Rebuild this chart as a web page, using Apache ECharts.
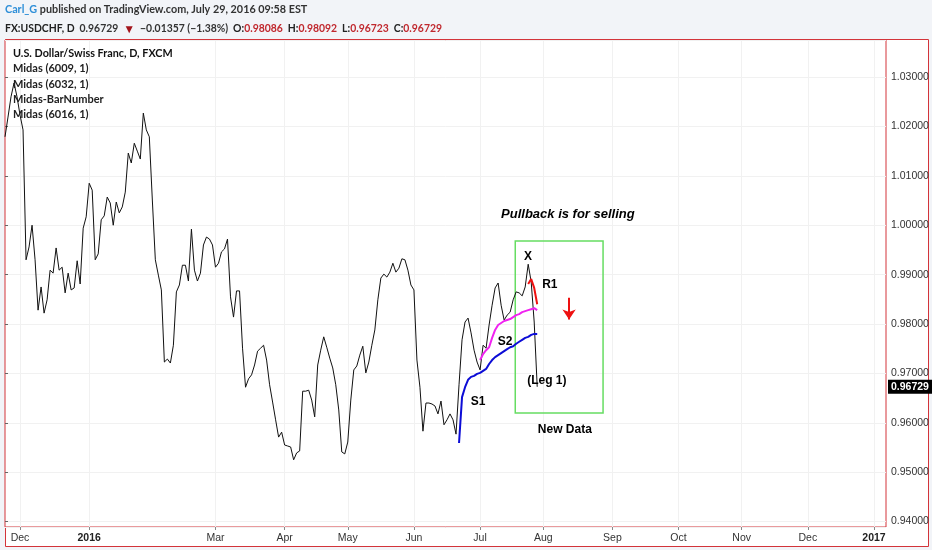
<!DOCTYPE html>
<html><head><meta charset="utf-8">
<script src="https://cdn.jsdelivr.net/npm/echarts@6/dist/echarts.min.js"></script>
<style>html,body{margin:0;padding:0;background:#f2f4f8;} #c{width:932px;height:550px;}</style>
</head><body><div id="c"></div>
<script>
// ---- categories (trading days) ----
const startDate = '2015-11-24';
const endDate = '2017-01-06';
const hiddenMonthLabels = ['2016-02'];
const monthNames = ['Jan','Feb','Mar','Apr','May','Jun','Jul','Aug','Sep','Oct','Nov','Dec'];

// ---- USDCHF daily close, from first category ----
const priceValues = [
  1.0179,1.0219,1.0260,1.0288,1.0260,1.0223,1.0193,0.9930,0.9956,1.0000,
  0.9930,0.9828,0.9875,0.9822,0.9849,0.9909,0.9903,0.9954,0.9909,0.9915,
  0.9863,0.9903,0.9869,0.9873,0.9928,0.9881,0.9994,1.0017,1.0085,1.0071,
  0.9930,0.9942,1.0011,1.0019,1.0057,1.0045,1.0000,1.0047,1.0025,1.0037,
  1.0067,1.0146,1.0126,1.0166,1.0150,1.0134,1.0227,1.0193,1.0179,1.0051,
  0.9930,0.9899,0.9869,0.9723,0.9729,0.9721,0.9757,0.9865,0.9879,0.9919,
  0.9919,0.9887,0.9992,0.9909,0.9887,0.9903,0.9960,0.9976,0.9972,0.9960,
  0.9915,0.9923,0.9946,0.9952,0.9972,0.9855,0.9814,0.9867,0.9867,0.9751,
  0.9672,0.9689,0.9697,0.9717,0.9745,0.9751,0.9757,0.9727,0.9677,0.9642,
  0.9606,0.9571,0.9581,0.9555,0.9553,0.9551,0.9525,0.9539,0.9543,0.9664,
  0.9664,0.9666,0.9646,0.9612,0.9717,0.9747,0.9774,0.9753,0.9731,0.9711,
  0.9677,0.9626,0.9541,0.9537,0.9561,0.9646,0.9707,0.9715,0.9737,0.9755,
  0.9701,0.9723,0.9757,0.9788,0.9849,0.9893,0.9901,0.9895,0.9905,0.9923,
  0.9905,0.9913,0.9932,0.9930,0.9909,0.9879,0.9869,0.9727,0.9672,0.9583,
  0.9640,0.9640,0.9638,0.9634,0.9618,0.9644,0.9596,0.9606,0.9618,0.9606,
  0.9577,0.9677,0.9768,0.9804,0.9812,0.9782,0.9747,0.9723,0.9707,0.9757,
  0.9751,0.9798,0.9838,0.9873,0.9883,0.9838,0.9808,0.9818,0.9824,0.9849,
  0.9865,0.9863,0.9857,0.9875,0.9921,0.9885,0.9804,0.96729
];

// ---- Midas curves (start = category index) ----
const midasS1Start = 151;
const midasS1 = [0.9559,0.9652,0.9672,0.9687,0.9693,0.9695,0.9699,0.9701,0.9705,0.9709,
  0.9719,0.9727,0.9733,0.9737,0.9741,0.9745,0.9749,0.9753,0.9755,0.9760,
  0.9764,0.9768,0.9772,0.9774,0.9778,0.9780,0.9780];
const midasS2Start = 158;
const midasS2 = [0.9727,0.9739,0.9747,0.9753,0.9772,0.9788,0.9798,0.9802,0.9806,0.9808,
  0.9810,0.9814,0.9818,0.9820,0.9824,0.9826,0.9828,0.9830,0.9832,0.9828];
const midasR1Start = 174;
const midasR1 = [0.9881,0.9891,0.9873,0.9840];

// ---- header texts ----
const headerUser = 'Carl_G';
const headerRest = ' published on TradingView.com, July 29, 2016 09:58 EST';
const symbolText = 'FX:USDCHF, D';
const lastText = '0.96729';
const changeText = '\u22120.01357 (\u22121.38%)';
const ohlc = [['O:','0.98086'],['H:','0.98092'],['L:','0.96723'],['C:','0.96729']];
const legendTitle = 'U.S. Dollar/Swiss Franc, D, FXCM';
const legendItems = ['Midas (6009, 1)','Midas (6032, 1)','Midas-BarNumber','Midas (6016, 1)'];

// ---- annotations (x = bar position, y = price) ----
const annotations = [
  {text:'Pullback is for selling', x:187.2, y:1.0021, kind:'title'},
  {text:'X', x:173.9, y:0.9937, kind:'mark'},
  {text:'R1', x:181.2, y:0.9879, kind:'mark'},
  {text:'S2', x:166.3, y:0.9764, kind:'mark'},
  {text:'S1', x:157.3, y:0.9642, kind:'mark'},
  {text:'(Leg 1)', x:180.2, y:0.9685, kind:'mark'},
  {text:'New Data', x:186.2, y:0.9587, kind:'mark'}
];
const newDataBox = [[169.7, 0.9968],[198.9, 0.9620]];
const sellArrow = [[187.6, 0.9853],[187.6, 0.9809]];

// ---- build categories ----
const categories = [];
const monthStart = {};
(function(){
  let d = new Date(startDate + 'T00:00:00Z');
  const end = new Date(endDate + 'T00:00:00Z');
  let prev = null;
  while (d <= end) {
    const wd = d.getUTCDay();
    if (wd !== 0 && wd !== 6) {
      const s = d.toISOString().slice(0, 10);
      const m = s.slice(0, 7);
      if (prev !== null && m !== prev && hiddenMonthLabels.indexOf(m) < 0) monthStart[categories.length] = true;
      prev = m;
      categories.push(s);
    }
    d = new Date(d.getTime() + 86400000);
  }
})();
const showAt = (i) => !!monthStart[i];

const RED = '#d3343a';
const FONT_UI = 'Lato';
const FONT_AX = 'Liberation Sans';

const chart = echarts.init(document.getElementById('c'));

const ohlcRich = ohlc.map(p => '{k|' + p[0] + '}{r|' + p[1] + '}').join(' ');

chart.setOption({
  animation: false,
  backgroundColor: '#f2f4f8',
  graphic: [{
    type: 'rect', z: -100, silent: true,
    shape: {x: 5.5, y: 39.5, width: 923, height: 507},
    style: {fill: '#ffffff', stroke: RED, lineWidth: 1}
  }],
  title: [
    {left: 5, top: 4, padding: 0, text: '{u|' + headerUser + '}{t|' + headerRest + '}',
      textStyle: {rich: {
        u: {color: '#2f8fd8', fontSize: 10.8, fontFamily: FONT_UI},
        t: {color: '#333', fontSize: 10.8, fontFamily: FONT_UI}
      }}},
    {left: 5, top: 20, padding: 0, text: '{s|' + symbolText + '} {n|' + lastText + '} {d|\u25BC} {n|' + changeText + '} ' + ohlcRich,
      textStyle: {rich: {
        s: {color: '#222', fontSize: 10.4, fontWeight: 'bold', fontFamily: FONT_UI},
        n: {color: '#333', fontSize: 10.4, fontFamily: FONT_UI},
        d: {color: '#a3141b', fontSize: 12, fontFamily: FONT_UI},
        k: {color: '#222', fontSize: 10.4, fontWeight: 'bold', fontFamily: FONT_UI},
        r: {color: '#c0282e', fontSize: 10.4, fontFamily: FONT_UI}
      }}},
    {left: 13, top: 46, padding: 0, text: '{b|' + legendTitle + '}\n' + legendItems.map(s => '{n|' + s + '}').join('\n'),
      textStyle: {rich: {
        b: {color: '#111', fontSize: 10.8, fontWeight: 'bold', fontFamily: FONT_UI, lineHeight: 15.3},
        n: {color: '#222', fontSize: 11, fontFamily: FONT_UI, lineHeight: 15.3}
      }}}
  ],
  grid: {left: 5, right: 46, top: 40, bottom: 23, show: true, backgroundColor: '#fff', borderColor: RED, borderWidth: 1},
  xAxis: [{
    type: 'category', data: categories, boundaryGap: false,
    axisLine: {show: false},
    axisTick: {show: true, interval: showAt, length: 3, lineStyle: {color: '#888'}},
    axisLabel: {interval: showAt, margin: 6, fontSize: 10.5, color: '#333', fontFamily: FONT_AX,
      formatter: (v) => { const m = +v.slice(5, 7); return m === 1 ? '{y|' + v.slice(0, 4) + '}' : monthNames[m - 1]; },
      rich: {y: {fontWeight: 'bold', fontSize: 10.5, color: '#222', fontFamily: FONT_AX}}},
    splitLine: {show: true, interval: showAt, lineStyle: {color: '#f1f1f1'}}
  }, {
    type: 'value', min: 0, max: categories.length - 1, show: false
  }],
  yAxis: {
    type: 'value', position: 'right', min: 0.9389, max: 1.0375, splitNumber: 10,
    axisLine: {show: false},
    axisTick: {show: true, length: 3, lineStyle: {color: '#666'}},
    axisLabel: {formatter: (v) => v.toFixed(5), showMinLabel: false, showMaxLabel: false,
      fontSize: 10.5, color: '#333', margin: 5, fontFamily: FONT_AX},
    splitLine: {lineStyle: {color: '#f1f1f1'}}
  },
  series: [
    {type: 'line', name: 'USDCHF', data: priceValues, symbol: 'none', z: 3,
      lineStyle: {color: '#111', width: 1},
      markLine: {silent: true, symbol: 'none', precision: 5, lineStyle: {color: 'rgba(0,0,0,0)', width: 0},
        data: [{yAxis: priceValues[priceValues.length - 1]}],
        label: {show: true, position: 'end', distance: 2, formatter: (p) => (+p.value).toFixed(5),
          backgroundColor: '#000', color: '#fff', fontWeight: 'bold', fontSize: 10.5, fontFamily: FONT_AX,
          padding: [2, 4, 1, 3], opacity: 1}}},
    {type: 'line', name: 'S1', data: midasS1.map((v, i) => [midasS1Start + i, v]), symbol: 'none', z: 4,
      lineStyle: {color: '#0c0cd6', width: 2}},
    {type: 'line', name: 'S2', data: midasS2.map((v, i) => [midasS2Start + i, v]), symbol: 'none', z: 4,
      lineStyle: {color: '#f022f0', width: 2}},
    {type: 'line', name: 'R1', data: midasR1.map((v, i) => [midasR1Start + i, v]), symbol: 'none', z: 4,
      lineStyle: {color: '#ee1111', width: 2}},
    {type: 'scatter', name: 'notes', xAxisIndex: 1, symbolSize: 0, z: 5, silent: true,
      itemStyle: {opacity: 1},
      data: annotations.map(a => ({value: [a.x, a.y], name: a.text,
        label: a.kind === 'title'
          ? {fontSize: 13, fontWeight: 'bold', fontStyle: 'italic'}
          : {fontSize: 12, fontWeight: 'bold'}})),
      label: {show: true, position: 'inside', formatter: '{b}', color: '#000', opacity: 1, fontFamily: FONT_AX},
      markArea: {silent: true, itemStyle: {color: 'rgba(0,0,0,0)', borderColor: '#66dd62', borderWidth: 1.5, opacity: 1},
        data: [[{coord: newDataBox[0]}, {coord: newDataBox[1]}]]},
      markLine: {silent: true, symbol: ['none', 'arrow'], symbolSize: 10,
        lineStyle: {color: '#ee1111', width: 2, type: 'solid', opacity: 1}, label: {show: false},
        data: [[{coord: sellArrow[0]}, {coord: sellArrow[1]}]]}}
  ]
});
</script></body></html>
